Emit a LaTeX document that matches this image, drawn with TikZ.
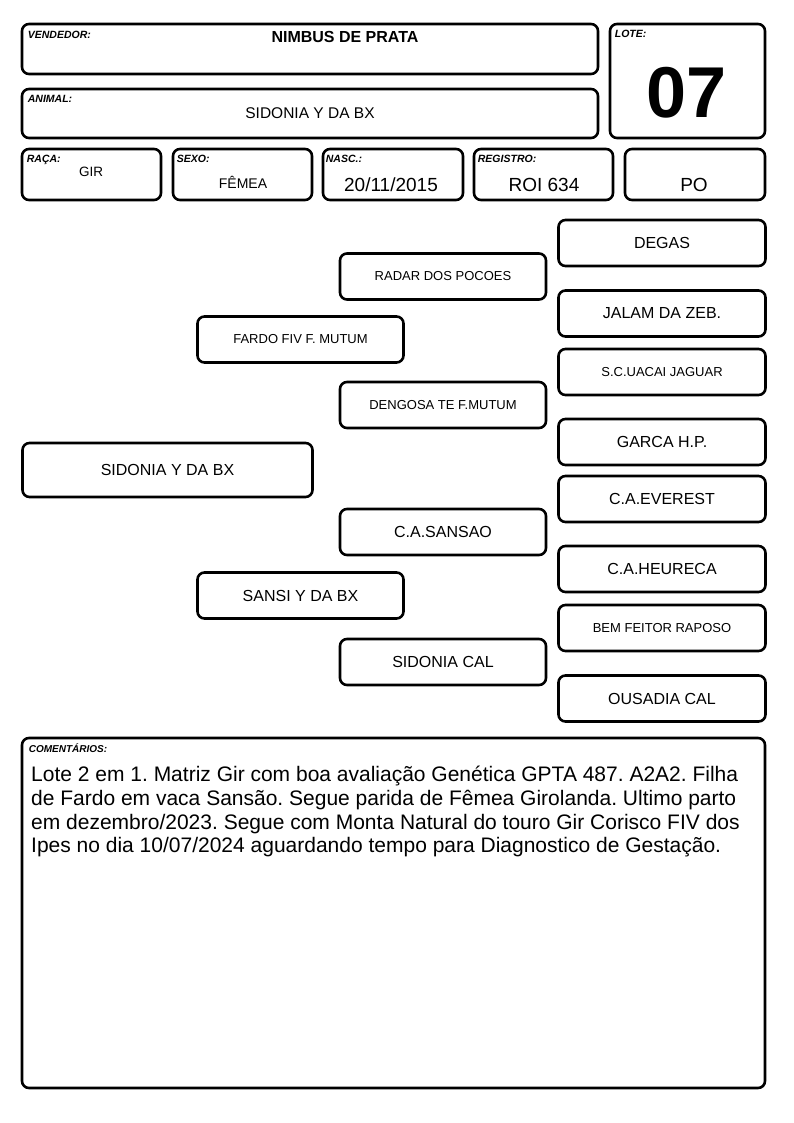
\documentclass[tikz,border=0pt]{standalone}
\usepackage{fontspec}
\setmainfont{Liberation Sans}
\usetikzlibrary{positioning}
\frenchspacing
\tikzset{
  box/.style={draw, line width=2.6pt, rounded corners=7pt, inner sep=0pt, align=center},
  tag/.style={anchor=north west, inner sep=0pt, font=\fontsize{10.5}{12}\selectfont\bfseries\itshape},
  fld/.style={anchor=base, inner sep=0pt},
  big/.style={font=\fontsize{16}{18}\selectfont},
  small/.style={font=\fontsize{13}{15}\selectfont},
  gen1/.style={box, minimum width=290pt, minimum height=54pt},
  gen2/.style={box, minimum width=206pt, minimum height=46pt},
  gen3/.style={box, minimum width=207pt, minimum height=46pt},
}
\begin{document}
\begin{tikzpicture}[x=1pt, y=-1pt]
	\useasboundingbox (0,0) rectangle (794,1123);
	% header
	\node[box, minimum width=576pt, minimum height=50pt] (vendedor) at (310,49) {};
	\node[box, minimum width=155pt, minimum height=114pt] (lote) at (687.5,81) {};
	\node[box, minimum width=576pt, minimum height=49pt] (animal) at (310,113.5) {};
	\node[box, minimum width=139pt, minimum height=51pt] (raca) at (91.5,174.5) {};
	\node[box, minimum width=139pt, minimum height=51pt] (sexo) at (242.5,174.5) {};
	\node[box, minimum width=140pt, minimum height=51pt] (nasc) at (393,174.5) {};
	\node[box, minimum width=139pt, minimum height=51pt] (registro) at (543.5,174.5) {};
	\node[box, minimum width=140pt, minimum height=51pt] (po) at (695,174.5) {};
	\node[tag] (tvendedor) at ([xshift=7pt, yshift=-8pt]vendedor.north west) {VENDEDOR:};
	\node[tag] (tlote) at ([xshift=6pt, yshift=-7pt]lote.north west) {LOTE:};
	\node[tag] (tanimal) at ([xshift=7pt, yshift=-7pt]animal.north west) {ANIMAL:};
	\node[tag] (traca) at ([xshift=6pt, yshift=-7pt]raca.north west) {RAÇA:};
	\node[tag] (tsexo) at ([xshift=5pt, yshift=-7pt]sexo.north west) {SEXO:};
	\node[tag] (tnasc) at ([xshift=4pt, yshift=-7pt]nasc.north west) {NASC.:};
	\node[tag] (tregistro) at ([xshift=5pt, yshift=-7pt]registro.north west) {REGISTRO:};
	\node[fld, font=\fontsize{16}{18}\selectfont\bfseries] (vvendedor) at (345,43) {NIMBUS DE PRATA};
	\node[fld, font=\fontsize{72}{72}\selectfont\bfseries] (vlote) at (687,118) {07};
	\node[fld, font=\fontsize{15.5}{18}\selectfont] (vanimal) at (310,119) {SIDONIA Y DA BX};
	\node[fld, font=\fontsize{13.5}{16}\selectfont] (vraca) at (91,177) {GIR};
	\node[fld, font=\fontsize{14}{16}\selectfont] (vsexo) at (243,189) {FÊMEA};
	\node[fld, font=\fontsize{19}{21}\selectfont] (vnasc) at (391,192) {20/11/2015};
	\node[fld, font=\fontsize{19}{21}\selectfont] (vregistro) at (544,192) {ROI 634};
	\node[fld, font=\fontsize{19}{21}\selectfont] (vpo) at (694,192) {PO};
	% pedigree
	\node[gen1, big] (ind) at (167.5,470) {SIDONIA Y DA BX};
	\node[gen2, small] (pai) at (300.5,339.5) {FARDO FIV F. MUTUM};
	\node[gen2, big] (mae) at (300.5,595.5) {SANSI Y DA BX};
	\node[gen2, small] (pp) at (443,276.5) {RADAR DOS POCOES};
	\node[gen2, small] (pm) at (443,405) {DENGOSA TE F.MUTUM};
	\node[gen2, big] (mp) at (443,532) {C.A.SANSAO};
	\node[gen2, big] (mm) at (443,662) {SIDONIA CAL};
	\node[gen3, big] (ppp) at (662,243) {DEGAS};
	\node[gen3, big] (ppm) at (662,313.5) {JALAM DA ZEB.};
	\node[gen3, small] (pmp) at (662,372) {S.C.UACAI JAGUAR};
	\node[gen3, big] (pmm) at (662,442) {GARCA H.P.};
	\node[gen3, big] (mpp) at (662,499) {C.A.EVEREST};
	\node[gen3, big] (mpm) at (662,569) {C.A.HEURECA};
	\node[gen3, small] (mmp) at (662,628) {BEM FEITOR RAPOSO};
	\node[gen3, big] (mmm) at (662,698.5) {OUSADIA CAL};
	% comentarios
	\node[box, minimum width=743pt, minimum height=350pt] (coment) at (393.5,913) {};
	\node[tag, font=\fontsize{10}{12}\selectfont\bfseries\itshape] (tcoment) at ([xshift=8pt, yshift=-7pt]coment.north west) {COMENTÁRIOS:};
	\node[anchor=north west, inner sep=0pt, align=left, font=\fontsize{21}{23.7}\selectfont] (vcoment) at (31,766) {Lote 2 em 1. Matriz Gir com boa avaliação Genética GPTA 487. A2A2. Filha\\de Fardo em vaca Sansão. Segue parida de Fêmea Girolanda. Ultimo parto\\em dezembro/2023. Segue com Monta Natural do touro Gir Corisco FIV dos\\Ipes no dia 10/07/2024 aguardando tempo para Diagnostico de Gestação.};
\end{tikzpicture}
\end{document}
